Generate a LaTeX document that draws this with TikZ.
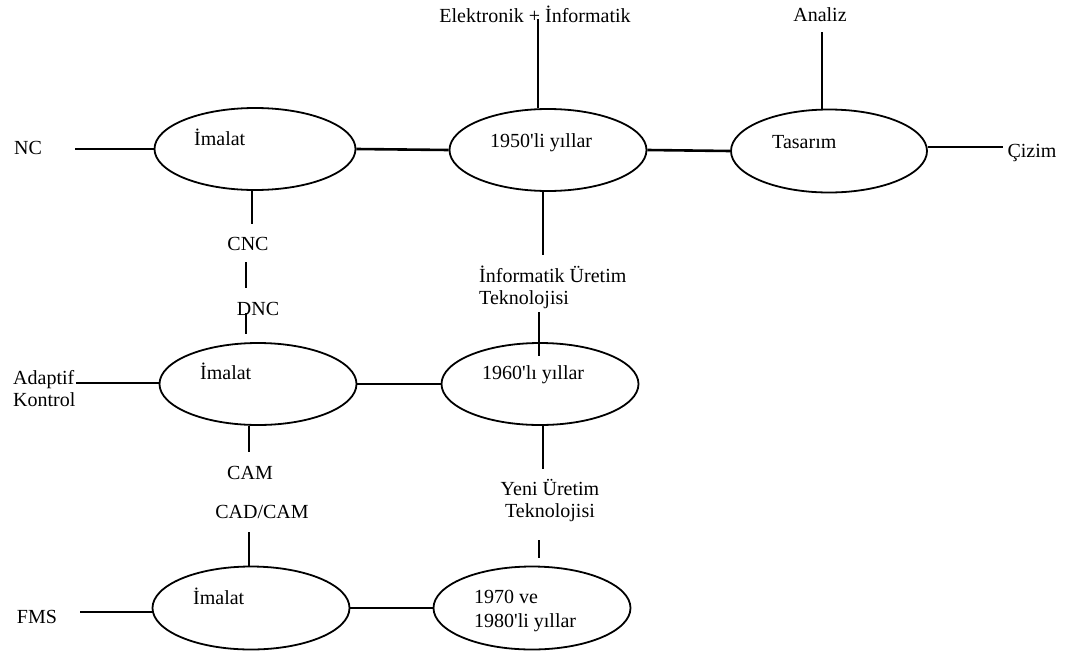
\documentclass[tikz,border=0pt]{standalone}
\usepackage{fontspec}
\setmainfont{Liberation Serif}[Ligatures=TeXOff]
\usetikzlibrary{shapes.geometric}
\begin{document}
\begin{tikzpicture}[x=1pt,y=-1pt,
  era/.style={draw, ellipse, line width=1.8pt, minimum width=197pt,
              minimum height=82pt, inner sep=0pt},
  lbl/.style={inner sep=0pt, font=\fontsize{20}{22}\selectfont},
  link/.style={line width=2.6pt}]
\path[use as bounding box] (0,0) rectangle (1070,653);

% --- ellipses ---------------------------------------------------------
\node[era, minimum width=201pt] (e1) at (255,149) {};
\node[era] (e2) at (548,150) {};
\node[era, minimum width=196pt, minimum height=83pt] (e3) at (829,151) {};
\node[era] (e4) at (258,384) {};
\node[era] (e5) at (540,384) {};
\node[era, minimum height=83pt] (e7) at (251,608) {};
\node[era, minimum height=83pt] (e8) at (532,608) {};

% --- texts inside the ellipses (multi-line: base = last line) ----------
\node[lbl, anchor=base west] (t1) at (194,145) {İmalat};
\node[lbl, anchor=base west] (t2) at (490,147) {1950'li yıllar};
\node[lbl, anchor=base west] (t3) at (772,148) {Tasarım};
\node[lbl, anchor=base west] (t4) at (200,379) {İmalat};
\node[lbl, anchor=base west] (t5) at (482,379) {1960'lı yıllar};
\node[lbl, anchor=base west] (t7) at (193,604) {İmalat};
\node[lbl, anchor=base west, align=left, font=\fontsize{20}{24}\selectfont]
  (t8) at (474,627) {1970 ve\\1980'li yıllar};

% --- outer labels -----------------------------------------------------
\node[lbl, anchor=base] (nc)  at (28,154) {NC};
\node[lbl, anchor=base] (ele) at (535,22.5) {Elektronik + İnformatik};
\node[lbl, anchor=base] (ana) at (820,21.5) {Analiz};
\node[lbl, anchor=base] (ciz) at (1032,157) {Çizim};
\node[lbl, anchor=base] (cnc) at (248,250) {CNC};
\node[lbl, anchor=base] (dnc) at (258,315) {DNC};
\node[lbl, anchor=base west, align=left] (inf) at (479,304)
  {İnformatik Üretim\\Teknolojisi};
\node[lbl, anchor=base west, align=left] (ada) at (13,406)
  {Adaptif\\Kontrol};
\node[lbl, anchor=base] (cam) at (250,479) {CAM};
\node[lbl, anchor=base] (cadcam) at (262,518) {CAD/CAM};
\node[lbl, anchor=base, align=center] (yeni) at (550,517)
  {Yeni Üretim\\Teknolojisi};
\node[lbl, anchor=base] (fms) at (37,623) {FMS};

% --- free ends of the connectors --------------------------------------
\coordinate (ncL)  at (75,149);
\coordinate (eleB) at (538,19);
\coordinate (anaB) at (822,32);
\coordinate (cizL) at (1003,147);
\coordinate (c1)   at (252,224);
\coordinate (c2a)  at (246,262);
\coordinate (c2b)  at (246,288);
\coordinate (c3a)  at (246,313);
\coordinate (c3b)  at (246,334);
\coordinate (i1)   at (543,255);
\coordinate (i2)   at (539,312);
\coordinate (i2b)  at (539,356);
\coordinate (adaR) at (76,383);
\coordinate (m1)   at (249,452);
\coordinate (m2)   at (249,532);
\coordinate (y1)   at (543,469);
\coordinate (y2a)  at (539,540);
\coordinate (y2b)  at (539,558);
\coordinate (fmsR) at (80,612);

% --- connectors -------------------------------------------------------
\draw[link] (ncL) -- (e1.west);
\draw[link] (e1.east) -- (e2.west);
\draw[link] (eleB) -- (eleB |- e2.north);
\draw[link] (e2.east) -- (e3.west);
\draw[link] (anaB) -- (anaB |- e3.north);
\draw[link] (cizL -| e3.east) -- (cizL);

\draw[link] (c1 |- e1.south) -- (c1);
\draw[link] (c2a) -- (c2b);
\draw[link] (c3a) -- (c3b);
\draw[link] (i1 |- e2.south) -- (i1);
\draw[link] (i2) -- (i2b);

\draw[link] (adaR) -- (adaR -| e4.west);
\draw[link] (e4.east) -- (e5.west);

\draw[link] (m1 |- e4.south) -- (m1);
\draw[link] (m2) -- (m2 |- e7.north);
\draw[link] (y1 |- e5.south) -- (y1);
\draw[link] (y2a) -- (y2b);

\draw[link] (fmsR) -- (fmsR -| e7.west);
\draw[link] (e7.east) -- (e8.west);
\end{tikzpicture}
\end{document}
